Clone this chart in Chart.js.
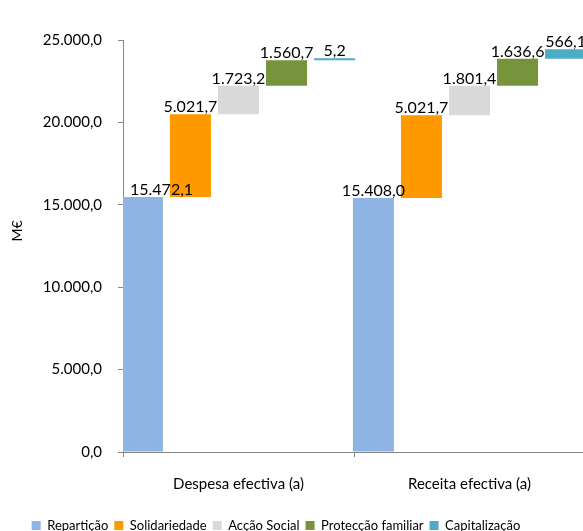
<!DOCTYPE html>
<html>
<head>
<meta charset="utf-8">
<script src="https://cdn.jsdelivr.net/npm/chart.js@4"></script>
<style>
  html, body { margin: 0; padding: 0; background: #fff; overflow: hidden; width: 583px; height: 531px; }
  #wrap { position: absolute; left: 0; top: 0; width: 590px; height: 560px; }
</style>
</head>
<body>
<div id="wrap"><canvas id="c" width="590" height="560"></canvas></div>
<script>
const categories = ["Despesa efectiva (a)", "Receita efectiva (a)"];
const seriesNames = ["Repartição", "Solidariedade", "Acção Social", "Protecção familiar", "Capitalização"];
const reparticao    = [15472.1, 15408.0];
const solidariedade = [5021.7, 5021.7];
const accaoSocial   = [1723.2, 1801.4];
const proteccao     = [1560.7, 1636.6];
const capitalizacao = [5.2, 566.1];
const yTicks = [0, 5000, 10000, 15000, 20000, 25000];
const colors = ["#8DB4E2", "#FF9900", "#D9D9D9", "#77933C", "#4BACC6"];

const seriesValues = [reparticao, solidariedade, accaoSocial, proteccao, capitalizacao];

function fmt(v) {
  const s = Math.abs(v).toFixed(1);
  let [intPart, dec] = s.split(".");
  intPart = intPart.replace(/\B(?=(\d{3})+(?!\d))/g, ".");
  return (v < 0 ? "-" : "") + intPart + "," + dec;
}

// Waterfall: each series floats on top of the running total
const running = categories.map(() => 0);
const datasets = seriesValues.map((vals, i) => {
  const data = vals.map((v, j) => {
    const start = running[j];
    running[j] += v;
    return [start, running[j]];
  });
  return {
    label: seriesNames[i],
    data: data,
    rawValues: vals,
    backgroundColor: colors[i],
    borderWidth: 0,
    minBarLength: 2,
    categoryPercentage: 1.04,
    barPercentage: 0.854
  };
});

const FONT = "Lato";

const valueLabels = {
  id: "valueLabels",
  afterDatasetsDraw(chart) {
    const ctx = chart.ctx;
    const area = chart.chartArea;
    ctx.save();
    ctx.font = "16px " + FONT;
    ctx.fillStyle = "#000";
    ctx.textAlign = "center";
    ctx.textBaseline = "alphabetic";
    chart.data.datasets.forEach((ds, i) => {
      const meta = chart.getDatasetMeta(i);
      meta.data.forEach((el, j) => {
        const txt = fmt(ds.rawValues[j]);
        const w = ctx.measureText(txt).width;
        let x = el.x;
        if (x - w / 2 < area.left + 7) x = area.left + 7 + w / 2;
        const top = Math.min(el.y, el.base);
        ctx.fillText(txt, x, top - 2);
      });
    });
    ctx.restore();
  }
};

const yTitle = {
  id: "yTitle",
  afterDraw(chart) {
    const ctx = chart.ctx;
    ctx.save();
    ctx.font = "14px " + FONT;
    ctx.fillStyle = "#000";
    ctx.textAlign = "center";
    ctx.textBaseline = "middle";
    ctx.translate(17, 231);
    ctx.rotate(-Math.PI / 2);
    ctx.fillText("M€", 0, 0);
    ctx.restore();
  }
};

const legendShift = {
  id: "legendShift",
  afterLayout(chart) {
    const l = chart.legend;
    if (l) { l.right -= 33; }
  }
};

new Chart(document.getElementById("c"), {
  type: "bar",
  data: { labels: categories, datasets: datasets },
  options: {
    responsive: false,
    animation: false,
    devicePixelRatio: 1,
    layout: { padding: { left: 0, right: 5, top: 40, bottom: 18 } },
    plugins: {
      tooltip: { enabled: false },
      legend: {
        position: "bottom",
        labels: {
          font: { family: FONT, size: 13 },
          color: "#000",
          boxWidth: 9,
          boxHeight: 9,
          padding: 6
        }
      }
    },
    scales: {
      x: {
        grid: { drawOnChartArea: false, offset: true, color: "#868686", tickLength: 5 },
        border: { color: "#868686", width: 1 },
        ticks: { font: { family: FONT, size: 15 }, color: "#000", padding: 18, maxRotation: 0 },
        afterFit(s) { s.height = 61; }
      },
      y: {
        min: 0,
        max: 25000,
        afterBuildTicks(s) { s.ticks = yTicks.map(v => ({ value: v })); },
        grid: { drawOnChartArea: false, color: "#868686", tickLength: 5 },
        border: { color: "#868686", width: 1 },
        ticks: { font: { family: FONT, size: 15 }, color: "#000", padding: 16, callback: v => fmt(v) },
        afterFit(s) { s.width = 123; }
      }
    }
  },
  plugins: [valueLabels, yTitle, legendShift]
});
</script>
</body>
</html>
